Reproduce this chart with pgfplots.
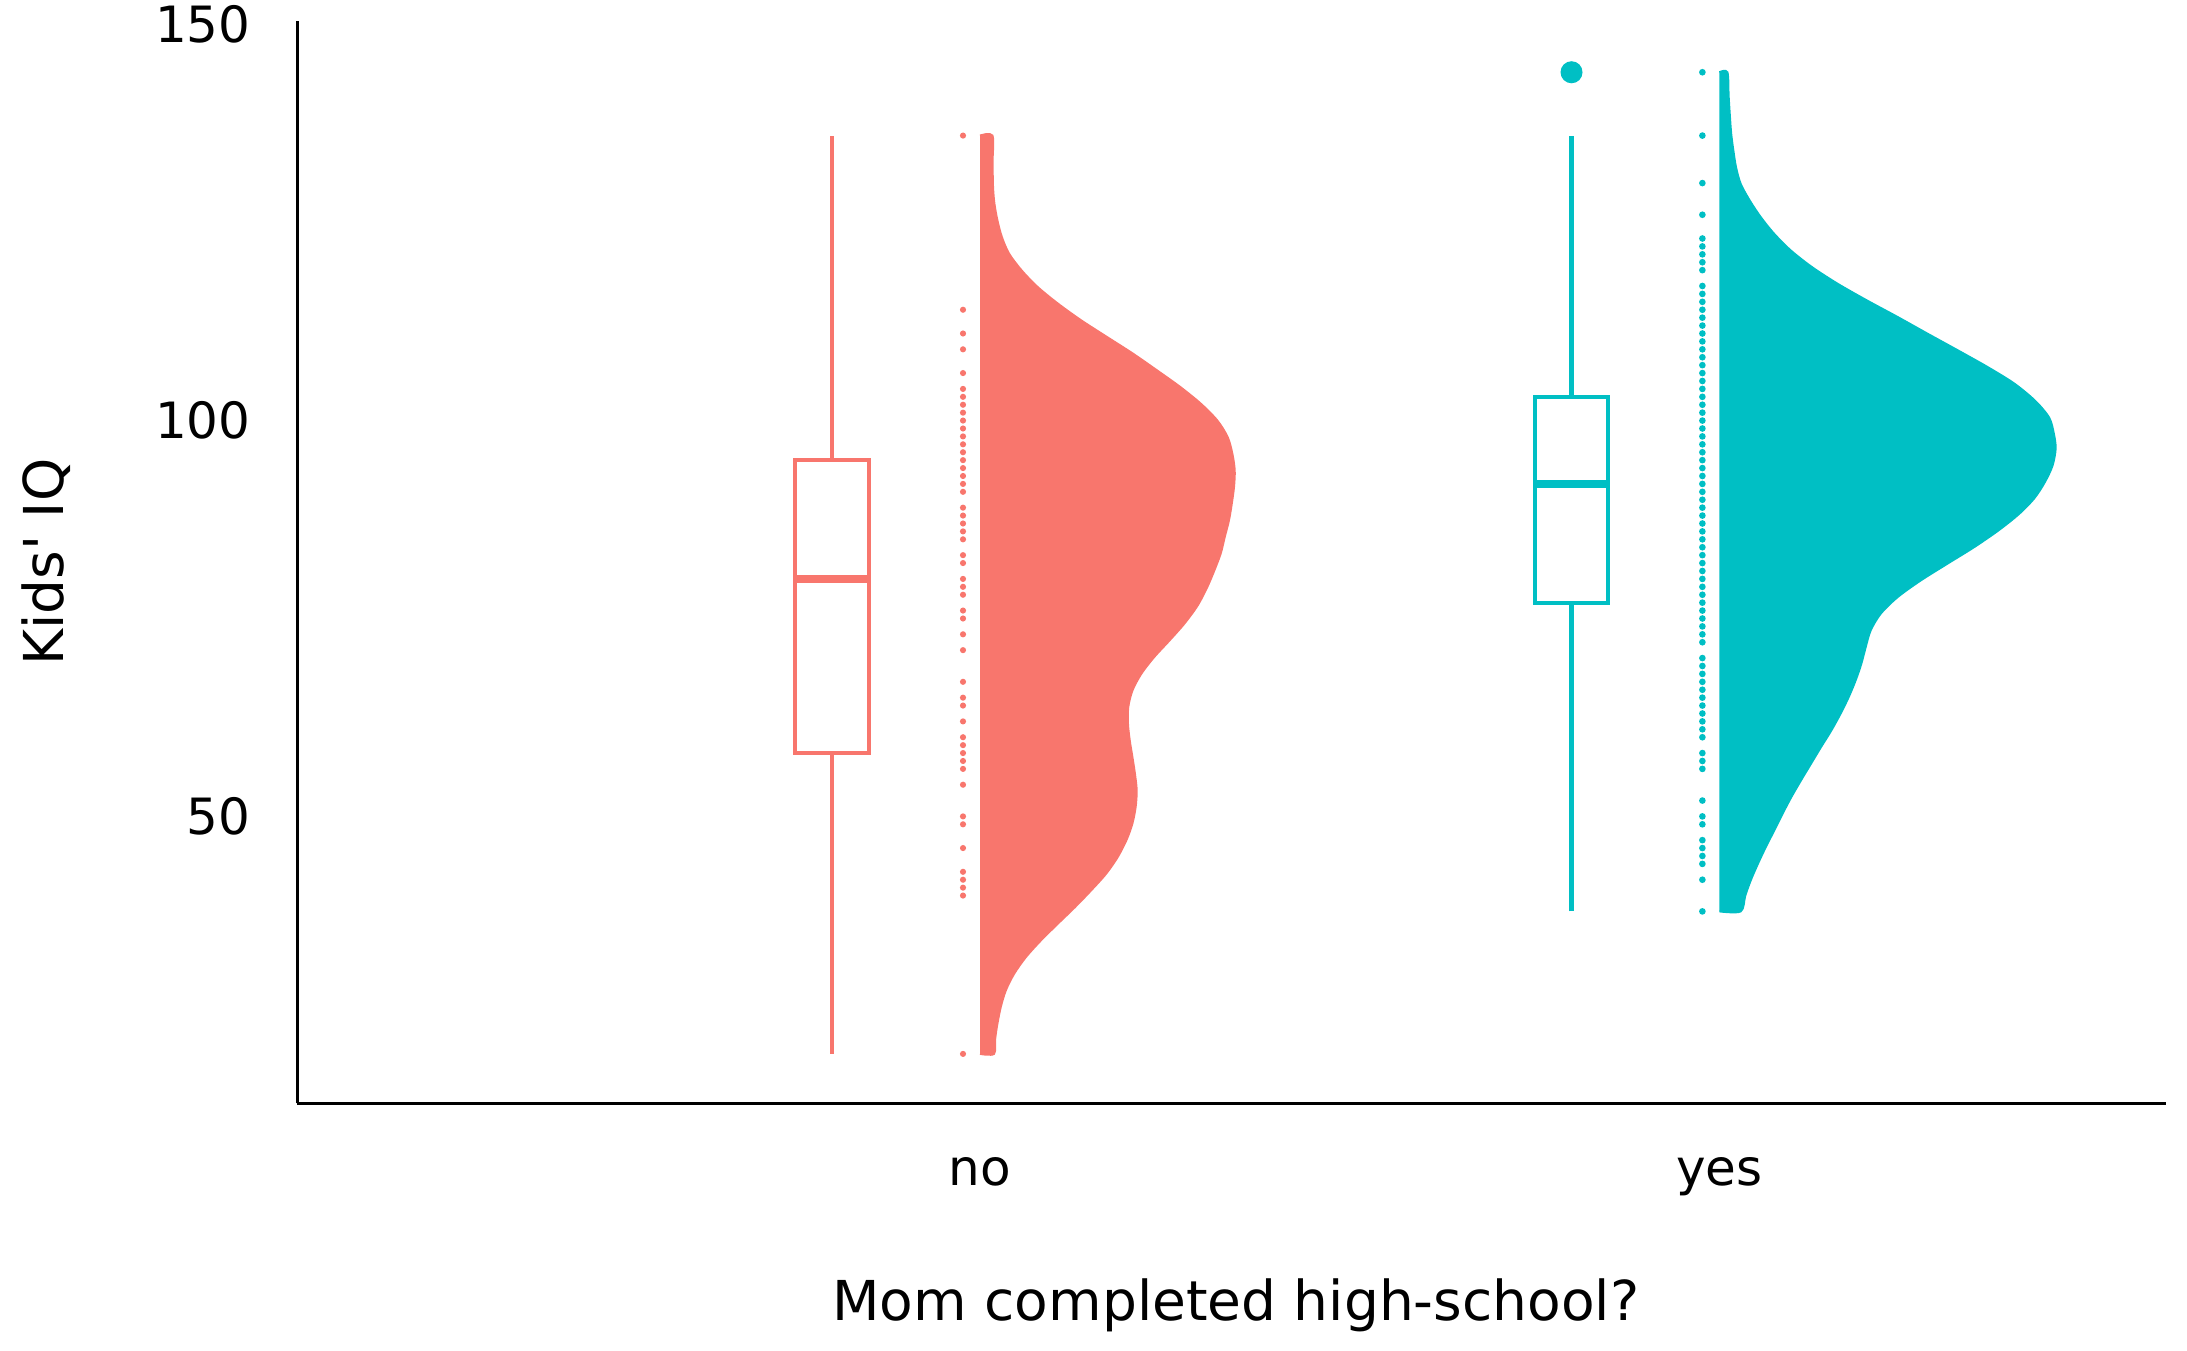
\documentclass[border=0pt]{standalone}
\usepackage{fontspec}
\setmainfont{DejaVu Sans}[Ligatures=TeXOff]
\usepackage{pgfplots}
\usepackage{pgfplotstable}
\pgfplotsset{compat=1.18}
\definecolor{cno}{HTML}{F8766D}
\definecolor{cyes}{HTML}{00BFC4}

\pgfplotstableread{
x y
0.977 136
0.977 114
0.977 111
0.977 109
0.977 106
0.977 104
0.977 103
0.977 102
0.977 101
0.977 100
0.977 99
0.977 98
0.977 97
0.977 96
0.977 95
0.977 94
0.977 93
0.977 92
0.977 91
0.977 89
0.977 88
0.977 87
0.977 86
0.977 85
0.977 83
0.977 82
0.977 80
0.977 79
0.977 78
0.977 76
0.977 75
0.977 73
0.977 71
0.977 67
0.977 65
0.977 64
0.977 62
0.977 60
0.977 59
0.977 58
0.977 57
0.977 56
0.977 54
0.977 50
0.977 49
0.977 46
0.977 43
0.977 42
0.977 41
0.977 40
0.977 20
}\dotsno

\pgfplotstableread{
x y
1.977 144
1.977 136
1.977 130
1.977 126
1.977 123
1.977 122
1.977 121
1.977 120
1.977 119
1.977 117
1.977 116
1.977 115
1.977 114
1.977 113
1.977 112
1.977 111
1.977 110
1.977 109
1.977 108
1.977 107
1.977 106
1.977 105
1.977 104
1.977 103
1.977 102
1.977 101
1.977 100
1.977 99
1.977 98
1.977 97
1.977 96
1.977 95
1.977 94
1.977 93
1.977 92
1.977 91
1.977 90
1.977 89
1.977 88
1.977 87
1.977 86
1.977 85
1.977 84
1.977 83
1.977 82
1.977 81
1.977 80
1.977 79
1.977 78
1.977 77
1.977 76
1.977 75
1.977 74
1.977 73
1.977 72
1.977 70
1.977 69
1.977 68
1.977 67
1.977 66
1.977 65
1.977 64
1.977 63
1.977 62
1.977 61
1.977 60
1.977 58
1.977 57
1.977 56
1.977 52
1.977 50
1.977 49
1.977 47
1.977 46
1.977 45
1.977 44
1.977 42
1.977 38
}\dotsyes

% half-violin outlines: offset from the category position, y value
\pgfplotstableread{
w y
0 20
0.0189 20
0.0205 21.9
0.0235 23.8
0.0280 25.9
0.0348 28.0
0.0460 30.1
0.0618 32.2
0.0820 34.3
0.1047 36.4
0.1280 38.5
0.1497 40.6
0.1700 42.7
0.1858 44.8
0.1980 47.0
0.2061 49.1
0.2105 51.2
0.2119 53.3
0.2095 55.4
0.2061 57.5
0.2025 59.6
0.2001 61.7
0.2005 63.8
0.2061 65.9
0.2180 68.0
0.2353 70.1
0.2560 72.2
0.2759 74.3
0.2940 76.6
0.3075 79.0
0.3170 81.1
0.3255 83.2
0.3310 85.3
0.3367 87.4
0.3405 89.5
0.3435 91.6
0.3445 93.7
0.3413 95.8
0.3350 97.9
0.3210 100.0
0.2990 102.1
0.2714 104.2
0.2400 106.3
0.2061 108.5
0.1710 110.6
0.1362 112.7
0.1050 114.8
0.0776 116.9
0.0560 119.0
0.0392 121.1
0.0295 123.2
0.0235 125.3
0.0195 127.4
0.0176 129.5
0.0170 132.7
0.0168 136
0 136
}\violno

\pgfplotstableread{
w y
0 38
0.0288 38.0
0.0350 40.0
0.0423 41.9
0.0520 44.0
0.0626 46.1
0.0740 48.2
0.0852 50.3
0.0970 52.4
0.1100 54.5
0.1235 56.6
0.1370 58.7
0.1510 60.8
0.1640 63.0
0.1750 65.1
0.1843 67.2
0.1920 69.3
0.1979 71.4
0.2046 73.5
0.2181 75.6
0.2410 77.7
0.2722 79.8
0.3080 81.9
0.3443 84.0
0.3770 86.1
0.4052 88.2
0.4260 90.2
0.4400 92.2
0.4505 94.3
0.4548 96.5
0.4520 98.5
0.4458 100.4
0.4270 102.5
0.3984 104.7
0.3620 106.8
0.3219 108.9
0.2810 111.0
0.2407 113.1
0.1990 115.2
0.1596 117.3
0.1250 119.4
0.0964 121.5
0.0740 123.6
0.0559 125.7
0.0410 127.8
0.0288 129.9
0.0225 132.0
0.0189 134.1
0.0160 136.2
0.0143 138.3
0.0125 141.0
0.0108 144.0
0 144
}\violyes

\begin{document}
\begin{tikzpicture}
\begin{axis}[
  scale only axis,
  width=373.7pt, height=216.5pt,
  xmin=0.0769, xmax=2.604,
  ymin=13.76, ymax=150.5,
  axis lines=left,
  axis line style={-, line width=0.7pt, black},
  xtick={1,2}, xticklabels={no,yes},
  ytick={50,100,150},
  major tick length=0pt,
  tick style={draw=none},
  /pgf/number format/assume math mode=true,
  tick label style={font=\fontsize{10}{12}\selectfont},
  xticklabel style={anchor=base, inner sep=0pt, yshift=-16.5pt},
  yticklabel style={anchor=east, inner sep=0pt, xshift=-9.2pt},
  clip=false,
]
% half violins
\addplot[draw=cno, fill=cno, line width=0.4pt, smooth, tension=0.5]
  table[x expr=1+\thisrow{w}, y=y] {\violno};
\addplot[draw=cyes, fill=cyes, line width=0.4pt, smooth, tension=0.5]
  table[x expr=2+\thisrow{w}, y=y] {\violyes};
% raw points
\addplot[only marks, mark=*, mark size=0.4pt, cno] table[x=x, y=y] {\dotsno};
\addplot[only marks, mark=*, mark size=0.45pt, cyes] table[x=x, y=y] {\dotsyes};
% box plots: no
\addplot[cno, line width=0.85pt] coordinates {(0.8,95) (0.8,136)};
\addplot[cno, line width=0.85pt] coordinates {(0.8,20) (0.8,58)};
\addplot[cno, line width=0.8pt, fill=white] coordinates {(0.75,58) (0.85,58) (0.85,95) (0.75,95)} -- cycle;
\addplot[cno, line width=1.5pt] coordinates {(0.75,80) (0.85,80)};
% box plots: yes
\addplot[cyes, line width=0.85pt] coordinates {(1.8,103) (1.8,136)};
\addplot[cyes, line width=0.85pt] coordinates {(1.8,38) (1.8,77)};
\addplot[cyes, line width=0.8pt, fill=white] coordinates {(1.75,77) (1.85,77) (1.85,103) (1.75,103)} -- cycle;
\addplot[cyes, line width=1.5pt] coordinates {(1.75,92) (1.85,92)};
\addplot[only marks, mark=*, mark size=2pt, cyes] coordinates {(1.8,144)};
\coordinate (O) at (rel axis cs:0,0);
\coordinate (ML) at (rel axis cs:0,0.5);
\coordinate (MB) at (axis cs:1.346,13.76);
\end{axis}
\node[anchor=base, inner sep=0pt, font=\fontsize{11}{13}\selectfont] at ([yshift=-43.4pt]MB) {Mom completed high-school?};
\node[rotate=90, anchor=base, inner sep=0pt, font=\fontsize{11}{13}\selectfont] at ([xshift=-46.8pt]ML) {Kids' IQ};
\pgfresetboundingbox
\path[use as bounding box] (O) ++(-59.5pt,-49.54pt) rectangle ++(437.4pt,270.2pt);
\end{tikzpicture}
\end{document}
